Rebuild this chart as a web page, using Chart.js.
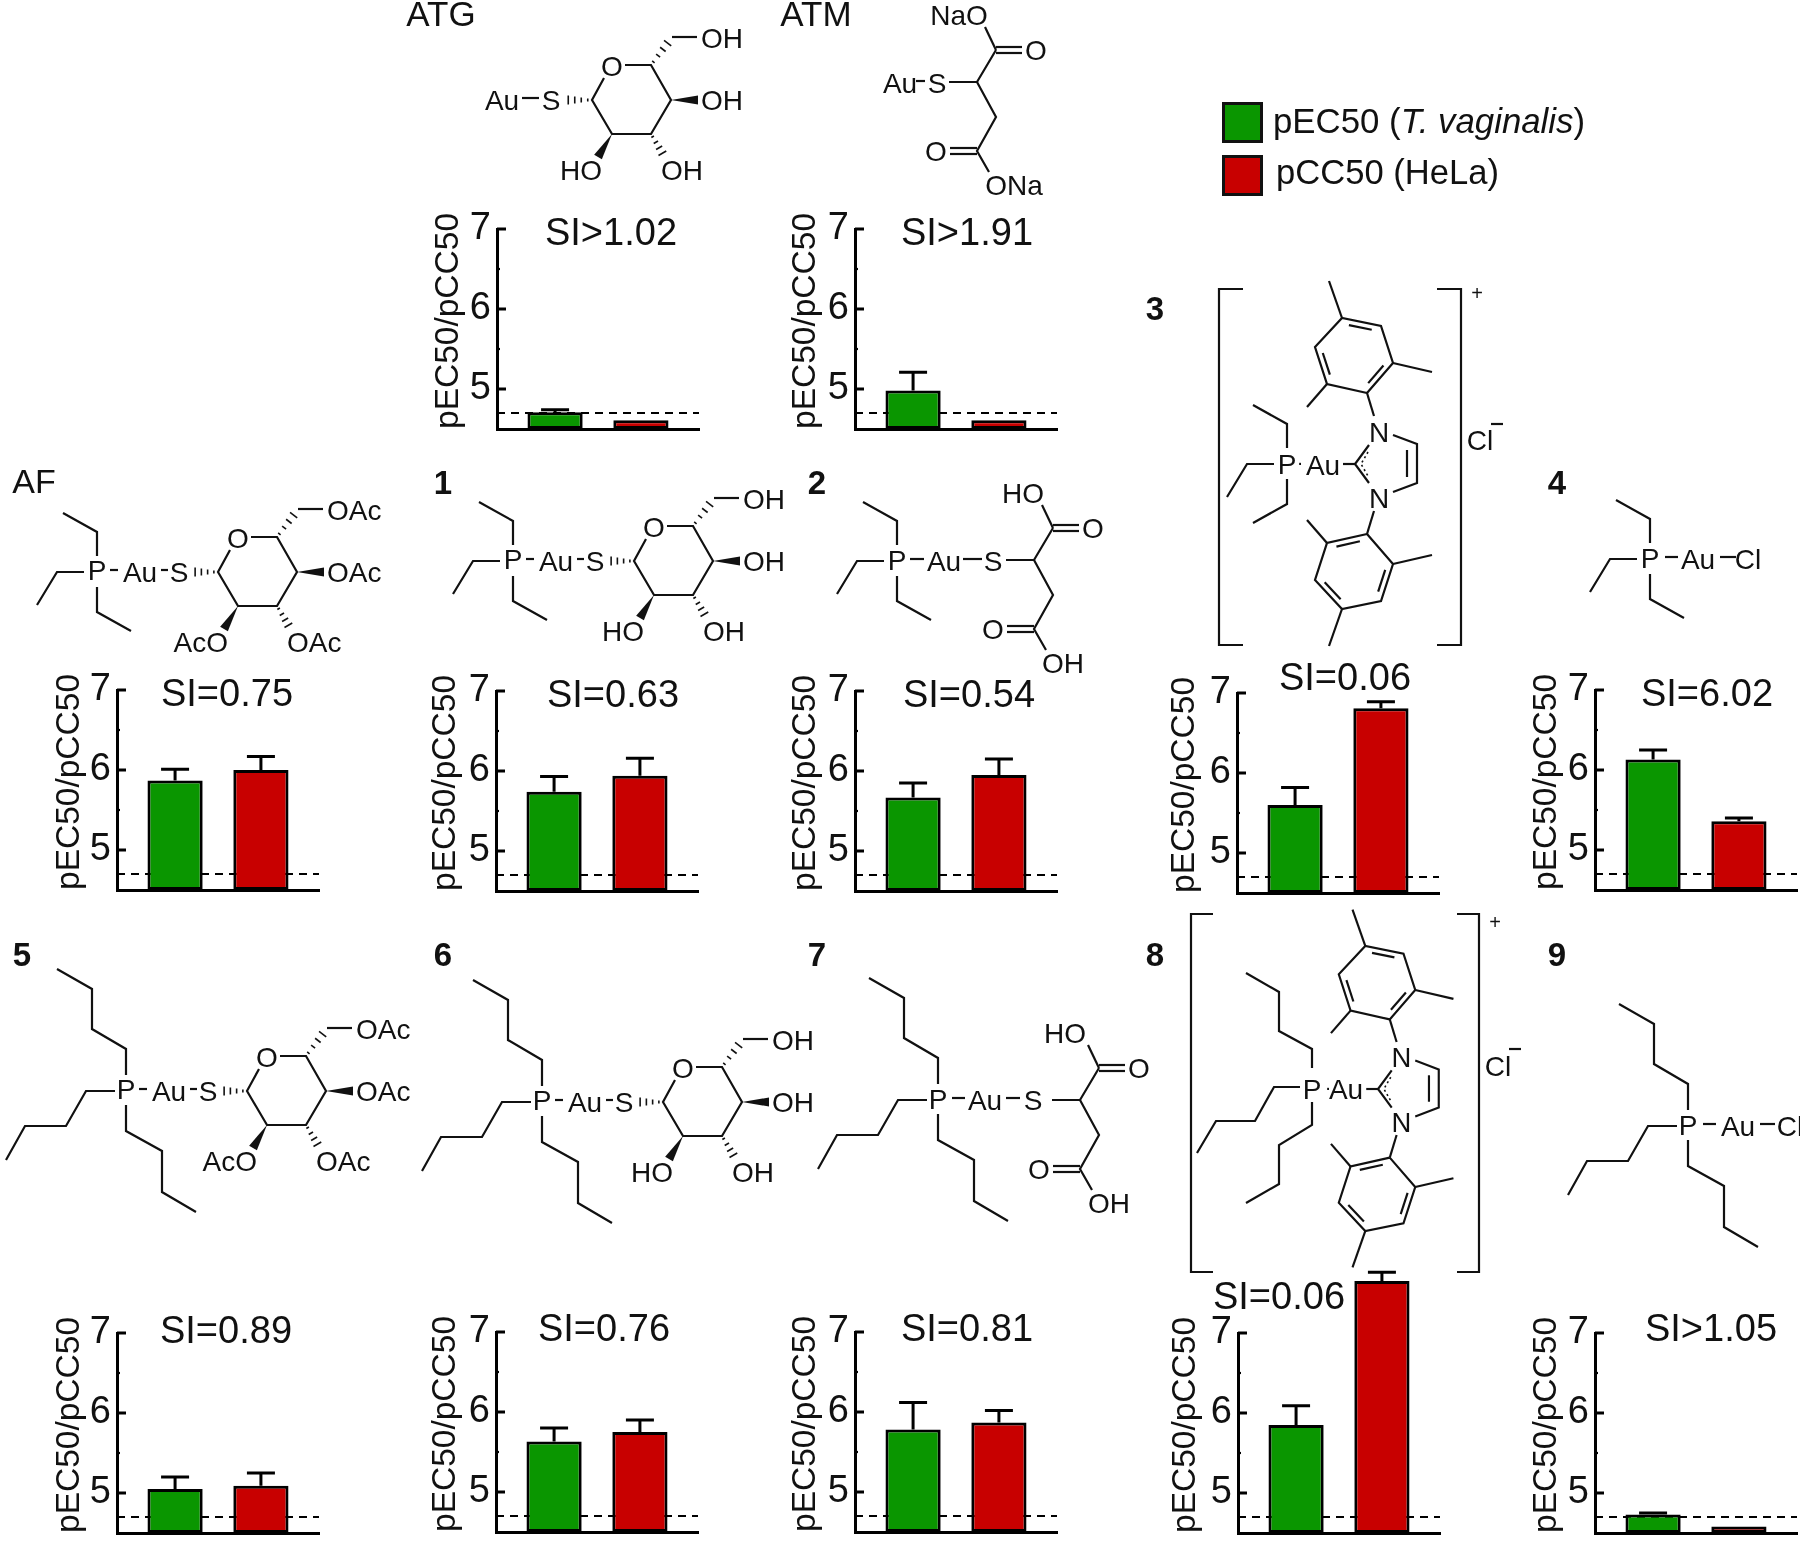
<!DOCTYPE html>
<html>
<head>
<meta charset="utf-8">
<title>pEC50 / pCC50</title>
<script src="https://cdn.jsdelivr.net/npm/chart.js@4"></script>
<style>
    html, body { margin: 0; padding: 0; background: #fff; }
    #page { position: relative; width: 1800px; height: 1541px; overflow: hidden; background: #fff; }
    #page canvas { position: absolute; }
    #overlay { position: absolute; left: 0; top: 0; }
    #overlay text { font-family: "Liberation Sans", Arial, sans-serif; fill: #111; }
</style>
</head>
<body>
<div id="page"></div>
<script>
// values
const compounds = ['ATG', 'ATM', 'AF', '1', '2', '3', '4', '5', '6', '7', '8', '9'];
const siLabels = ['SI>1.02', 'SI>1.91', 'SI=0.75', 'SI=0.63', 'SI=0.54', 'SI=0.06', 'SI=6.02', 'SI=0.89', 'SI=0.76', 'SI=0.81', 'SI=0.06', 'SI>1.05'];
const pEC50 = [4.71, 4.98, 5.87, 5.74, 5.67, 5.60, 6.13, 5.05, 5.63, 5.78, 5.85, 4.73];
const pEC50Upper = [4.74, 5.21, 6.01, 5.93, 5.85, 5.82, 6.25, 5.20, 5.80, 6.12, 6.09, 4.75];
const pCC50 = [4.61, 4.61, 6.00, 5.94, 5.95, 6.81, 5.36, 5.09, 5.75, 5.87, 7.65, 4.58];
const pCC50Upper = [null, null, 6.17, 6.16, 6.15, 6.89, 5.40, 5.25, 5.90, 6.02, 7.76, null];
const cutoff = 4.7;
const seriesNames = ['pEC50 (T. vaginalis)', 'pCC50 (HeLa)'];
const yTitle = 'pEC50/pCC50';
const yMin = 4.5;
const yMax = 7;
const yStep = 0.5;

// where each panel goes on the page
const axisX = [497, 855, 117, 496, 855, 1237, 1595, 117, 496, 855, 1238, 1595];
const axisTop = [229, 229, 690, 691, 691, 693, 690, 1333, 1332, 1332, 1333, 1333];
const siX = [611, 967, 227, 613, 969, 1345, 1707, 226, 604, 967, 1279, 1711];
const siY = [232, 232, 693, 694, 694, 677, 693, 1330, 1328, 1328, 1296, 1328];
const titleShift = [2, 1, 3, 0, 1, -2, 2, 3, 0, 1, -2, 2];
const plotW = 202;
const plotH = 200;
const padTop = 75;
const padBottom = 30;
const padLeft = 110;

const GREEN = '#0a9600';
const RED = '#c80000';
const FONT = '"Liberation Sans", Arial, sans-serif';

const page = document.getElementById('page');

const panelPlugin = {
    id: 'panelPlugin',
    beforeDatasetsDraw(chart) {
        // dashed cutoff line, behind the bars
        const c = chart.ctx, a = chart.chartArea;
        const y = chart.scales.y.getPixelForValue(cutoff);
        c.save();
        c.strokeStyle = '#000';
        c.lineWidth = 2.2;
        c.setLineDash([8, 6]);
        c.beginPath();
        c.moveTo(a.left, y);
        c.lineTo(a.right, y);
        c.stroke();
        c.restore();
    },
    afterDatasetsDraw(chart) {
        const c = chart.ctx, yScale = chart.scales.y;
        c.save();
        c.strokeStyle = '#000';
        c.lineWidth = 3;
        chart.data.datasets.forEach((ds, i) => {
            if (ds.upper == null) return;
            const bar = chart.getDatasetMeta(i).data[0];
            const top = yScale.getPixelForValue(ds.upper);
            c.beginPath();
            c.moveTo(bar.x, bar.y);
            c.lineTo(bar.x, top);
            c.moveTo(bar.x - 14, top);
            c.lineTo(bar.x + 14, top);
            c.stroke();
        });
        // ticks point into the plot
        const left = chart.chartArea.left;
        yScale.ticks.forEach(t => {
            if (t.value === yMin) return;
            const y = yScale.getPixelForValue(t.value);
            const major = Number.isInteger(t.value);
            c.lineWidth = major ? 3 : 2.2;
            c.beginPath();
            c.moveTo(left, y);
            c.lineTo(left + (major ? 9 : 3), y);
            c.stroke();
        });
        c.restore();
    }
};

compounds.forEach((name, i) => {
    const canvas = document.createElement('canvas');
    canvas.width = padLeft + plotW + 4;
    canvas.height = padTop + plotH + padBottom;
    canvas.style.left = (axisX[i] - padLeft) + 'px';
    canvas.style.top = (axisTop[i] - padTop) + 'px';
    page.appendChild(canvas);

    new Chart(canvas.getContext('2d'), {
        type: 'bar',
        data: {
            labels: [name],
            datasets: [
                { label: seriesNames[0], data: [pEC50[i]], upper: pEC50Upper[i], backgroundColor: GREEN },
                { label: seriesNames[1], data: [pCC50[i]], upper: pCC50Upper[i], backgroundColor: RED }
            ]
        },
        options: {
            responsive: false,
            animation: false,
            layout: { padding: { top: padTop, left: 0, right: 4, bottom: padBottom } },
            plugins: { legend: { display: false }, tooltip: { enabled: false } },
            datasets: {
                bar: {
                    base: yMin,
                    categoryPercentage: 0.85,
                    barPercentage: 0.643,
                    borderColor: '#000',
                    borderWidth: 3,
                    borderSkipped: false,
                    clip: false
                }
            },
            scales: {
                x: {
                    grid: { display: false },
                    border: { display: true, color: '#000', width: 3 },
                    ticks: { display: false },
                    afterFit: s => { s.height = 0; }
                },
                y: {
                    beginAtZero: false,
                    min: yMin,
                    max: yMax,
                    afterFit: s => { s.width = padLeft; },
                    grid: { display: false, drawTicks: false },
                    border: { display: true, color: '#000', width: 3 },
                    ticks: {
                        stepSize: yStep,
                        autoSkip: false,
                        padding: 6,
                        color: '#111',
                        font: { family: FONT, size: 38 },
                        callback: v => Number.isInteger(v) ? String(v) : ''
                    },
                    title: {
                        display: true,
                        text: yTitle,
                        align: 'start',
                        color: '#111',
                        font: { family: FONT, size: 33.5 },
                        padding: { top: 40 + titleShift[i], bottom: 0 }
                    }
                }
            }
        },
        plugins: [panelPlugin]
    });
});

// everything that is not a chart: structures, labels, legend
let svg = '';
function poly(pts, w) {
    svg += '<polyline fill="none" stroke="#111" stroke-width="' + (w || 2.2) + '" stroke-linejoin="miter" points="' + pts.map(p => p.join(',')).join(' ') + '"/>';
}
function txt(x, y, s, size, anchor, extra) {
    svg += '<text x="' + x + '" y="' + y + '" font-size="' + (size || 28) + '" text-anchor="' + (anchor || 'middle') + '" dominant-baseline="central" ' + (extra || '') + '>' + s + '</text>';
}
function wedge(a, b) {
    const dx = b[0] - a[0], dy = b[1] - a[1], l = Math.hypot(dx, dy);
    const nx = -dy / l * 4.5, ny = dx / l * 4.5;
    svg += '<polygon fill="#111" points="' + a.join(',') + ' ' + (b[0] + nx) + ',' + (b[1] + ny) + ' ' + (b[0] - nx) + ',' + (b[1] - ny) + '"/>';
}
function hash(a, b) {
    const dx = b[0] - a[0], dy = b[1] - a[1], l = Math.hypot(dx, dy);
    const n = 4;
    for (let k = 0; k < n; k++) {
        const t = (k + 0.5) / n, h = 1 + 4 * t;
        const x = a[0] + dx * t, y = a[1] + dy * t, nx = -dy / l * h, ny = dx / l * h;
        poly([[x - nx, y - ny], [x + nx, y + ny]], 1.6);
    }
}
function off(o, list) {
    return list.map(p => [o[0] + p[0], o[1] + p[1]]);
}
function ethyl(px, py, downLeft) {
    poly(off([px, py], [[0, -16], [0, -40], [-34, -59]]));
    poly(off([px, py], [[-13, 0], [-40, 0], [-60, 33]]));
    poly(off([px, py], [[0, 15], [0, 40], [downLeft ? -34 : 34, 59]]));
}
function butyl(px, py) {
    poly(off([px, py], [[0, -16], [0, -42], [-34, -62], [-34, -102], [-69, -122]]));
    poly(off([px, py], [[-11, 0], [-40, 0], [-60, 35], [-101, 35], [-120, 69]]));
    poly(off([px, py], [[0, 14], [0, 40], [36, 60], [36, 101], [70, 121]]));
}
function sugar(x, y, sub, subLeft) {
    const O = [x + 20, y - 34], C5 = [x + 59, y - 35], C4 = [x + 79, y], C3 = [x + 59, y + 34], C2 = [x + 20, y + 34], C1 = [x, y];
    txt(O[0], O[1], 'O');
    poly([[x + 12, y - 22], C1, C2, C3, C4, C5, [x + 33, y - 35]]);
    hash(C5, [x + 78, y - 60]);
    poly([[x + 80, y - 63], [x + 105, y - 63]]);
    txt(x + 109, y - 62, sub, 28, 'start');
    wedge(C4, [x + 106, y]);
    txt(x + 109, y, sub, 28, 'start');
    wedge(C2, [x + 6, y + 57]);
    txt(x + 10, y + 70, subLeft, 28, 'end');
    hash(C3, [x + 72, y + 56]);
    txt(x + 69, y + 70, sub, 28, 'start');
}
function phosphineSugar(x, y, chain) {
    const px = x - 121;
    txt(px, y - 2, 'P');
    chain(px, y);
    poly([[px + 13, y - 2], [px + 21, y - 2]]);
    txt(x - 78, y, 'Au');
    poly([[x - 57, y - 2], [x - 50, y - 2]]);
    txt(x - 39, y, 'S');
    hash([x - 1, y], [x - 26, y]);
}
function malate(x, y, top, topDx, bottom, bottomDx) {
    const up = [x + 19, y - 32], down = [x + 19, y + 35], low = [x, y + 69];
    poly([[x - 28, y], [x, y], up]);
    poly([[x + 8, y - 55], up]);
    poly([[up[0], up[1] - 3], [up[0] + 26, up[1] - 3]]);
    poly([[up[0], up[1] + 3], [up[0] + 26, up[1] + 3]]);
    txt(up[0] + 40, up[1], 'O');
    txt(x + topDx, y - 67, top);
    poly([[x, y], down, low, [x + 12, y + 90]]);
    poly([[low[0], low[1] - 3], [low[0] - 27, low[1] - 3]]);
    poly([[low[0], low[1] + 3], [low[0] - 27, low[1] + 3]]);
    txt(low[0] - 41, low[1], 'O');
    txt(x + bottomDx, y + 103, bottom);
}
function innerBond(a, b, c) {
    const p = t => {
        const x = a[0] + (b[0] - a[0]) * t, y = a[1] + (b[1] - a[1]) * t;
        const dx = c[0] - x, dy = c[1] - y, l = Math.hypot(dx, dy);
        return [x + dx / l * 6, y + dy / l * 6];
    };
    poly([p(0.15), p(0.85)]);
}
function mesityl(ring, methyls, doubles, nBond) {
    poly(ring.concat([ring[0]]));
    const c = [ring.reduce((s, p) => s + p[0], 0) / 6, ring.reduce((s, p) => s + p[1], 0) / 6];
    methyls.forEach(m => poly(m));
    doubles.forEach(d => innerBond(ring[d[0]], ring[d[1]], c));
    poly(nBond);
}
// imidazolylidene with both mesityl rings, drawn at the place it has in compound 3
function carbene() {
    poly([[1343, 464], [1355, 464]]);
    poly([[1369, 445], [1355, 464], [1369, 483]]);
    txt(1379, 432, 'N');
    txt(1379, 498, 'N');
    poly([[1393, 435], [1417, 444], [1417, 483], [1393, 492]]);
    poly([[1407, 450], [1407, 477]]);
    svg += '<polyline fill="none" stroke="#111" stroke-width="1.6" stroke-dasharray="2 3" points="1368,452 1361,464 1368,476"/>';
    mesityl([[1367, 393], [1327, 384], [1315, 347], [1342, 318], [1381, 326], [1393, 363]],
        [[[1327, 384], [1307, 407]], [[1342, 318], [1329, 281]], [[1393, 363], [1432, 372]]],
        [[0, 5], [1, 2], [3, 4]], [[1367, 393], [1374, 416]]);
    mesityl([[1367, 534], [1327, 543], [1315, 580], [1342, 609], [1381, 601], [1393, 564]],
        [[[1327, 543], [1307, 520]], [[1342, 609], [1329, 646]], [[1393, 564], [1432, 555]]],
        [[0, 1], [2, 3], [4, 5]], [[1367, 534], [1374, 511]]);
}
function bracket(l, r, t, b, tick) {
    poly([[l + tick, t], [l, t], [l, b], [l + tick, b]]);
    poly([[r - tick, t], [r, t], [r, b], [r - tick, b]]);
}

// ATG, ATM
txt(441, 13, 'ATG', 35);
txt(816, 13, 'ATM', 35);
sugar(592, 100, 'OH', 'HO');
txt(502, 100, 'Au');
poly([[522, 98], [539, 98]]);
txt(551, 100, 'S');
hash([591, 100], [565, 100]);
txt(900, 83, 'Au');
poly([[916, 81], [925, 81]]);
txt(937, 83, 'S');
malate(977, 82, 'NaO', -18, 'ONa', 37);

// AF, 1, 2
txt(34, 481, 'AF', 34);
sugar(218, 572, 'OAc', 'AcO');
phosphineSugar(218, 572, (x, y) => ethyl(x, y));
txt(443, 482, '1', 33, 'middle', 'font-weight="bold"');
sugar(634, 561, 'OH', 'HO');
phosphineSugar(634, 561, (x, y) => ethyl(x, y));
txt(817, 482, '2', 33, 'middle', 'font-weight="bold"');
txt(897, 560, 'P');
ethyl(897, 561);
poly([[910, 559], [924, 559]]);
txt(944, 561, 'Au');
poly([[963, 559], [982, 559]]);
txt(993, 561, 'S');
malate(1034, 560, 'HO', -11, 'OH', 29);

// 3
txt(1155, 308, '3', 33, 'middle', 'font-weight="bold"');
bracket(1219, 1461, 289, 645, 24);
txt(1477, 293, '+', 20);
txt(1480, 440, 'Cl');
poly([[1491, 424], [1503, 424]]);
txt(1287, 464, 'P');
ethyl(1287, 464, true);
txt(1300, 462, '·', 20);
txt(1323, 465, 'Au');
carbene();

// 4
txt(1557, 482, '4', 33, 'middle', 'font-weight="bold"');
txt(1650, 558, 'P');
ethyl(1650, 559);
poly([[1665, 557], [1678, 557]]);
txt(1698, 559, 'Au');
poly([[1720, 557], [1736, 557]]);
txt(1748, 559, 'Cl');

// 5, 6, 7
txt(22, 954, '5', 33, 'middle', 'font-weight="bold"');
sugar(247, 1091, 'OAc', 'AcO');
phosphineSugar(247, 1091, butyl);
txt(443, 954, '6', 33, 'middle', 'font-weight="bold"');
sugar(663, 1102, 'OH', 'HO');
phosphineSugar(663, 1102, butyl);
txt(817, 954, '7', 33, 'middle', 'font-weight="bold"');
txt(938, 1099, 'P');
butyl(938, 1100);
poly([[952, 1098], [965, 1098]]);
txt(985, 1100, 'Au');
poly([[1006, 1098], [1020, 1098]]);
txt(1033, 1100, 'S');
malate(1080, 1100, 'HO', -15, 'OH', 29);

// 8
txt(1155, 954, '8', 33, 'middle', 'font-weight="bold"');
bracket(1191, 1479, 914, 1272, 22);
txt(1495, 922, '+', 20);
txt(1498, 1066, 'Cl');
poly([[1509, 1049], [1521, 1049]]);
txt(1312, 1089, 'P');
poly(off([1312, 1089], [[0, -21], [0, -40], [-33, -58], [-33, -97], [-66, -116]]));
poly(off([1312, 1089], [[-12, -2], [-38, -2], [-57, 32], [-96, 32], [-115, 64]]));
poly(off([1312, 1089], [[0, 13], [0, 36], [-33, 56], [-33, 95], [-66, 114]]));
txt(1328, 1087, '·', 20);
txt(1346, 1089, 'Au');
svg += '<g transform="translate(1378,1089) scale(0.98) translate(-1355,-464)">';
carbene();
svg += '</g>';

// 9
txt(1557, 954, '9', 33, 'middle', 'font-weight="bold"');
txt(1688, 1125, 'P');
butyl(1688, 1126);
poly([[1703, 1124], [1716, 1124]]);
txt(1738, 1126, 'Au');
poly([[1760, 1124], [1775, 1124]]);
txt(1790, 1126, 'Cl');

// SI labels
siLabels.forEach((s, i) => txt(siX[i], siY[i], s.replace('>', '&gt;'), 38));

// legend
svg += '<rect x="1223.5" y="103.5" width="38" height="38" fill="' + GREEN + '" stroke="#111" stroke-width="3"/>';
svg += '<rect x="1223.5" y="156.5" width="38" height="38" fill="' + RED + '" stroke="#111" stroke-width="3"/>';
txt(1273, 120, 'pEC50 (<tspan font-style="italic">T. vaginalis</tspan>)', 34.8, 'start');
txt(1276, 172, seriesNames[1], 34.6, 'start');

page.insertAdjacentHTML('beforeend', '<svg id="overlay" width="1800" height="1541" viewBox="0 0 1800 1541" xmlns="http://www.w3.org/2000/svg">' + svg + '</svg>');
</script>
</body>
</html>
